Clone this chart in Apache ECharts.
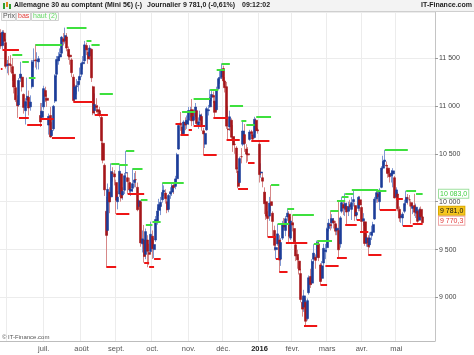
<!DOCTYPE html>
<html><head><meta charset="utf-8">
<script src="https://cdn.jsdelivr.net/npm/echarts/dist/echarts.min.js"></script>
<style>html,body{margin:0;padding:0;background:#fff}#c{width:474px;height:355px}</style>
</head><body><div id="c"></div><script>
// trading days per month
const monthDays = [
 ['2015-05', [26,27,28,29]],
 ['2015-06', [1,2,3,4,5,8,9,10,11,12,15,16,17,18,19,22,23,24,25,26,29,30]],
 ['2015-07', [1,2,3,6,7,8,9,10,13,14,15,16,17,20,21,22,23,24,27,28,29,30,31]],
 ['2015-08', [3,4,5,6,7,10,11,12,13,14,17,18,19,20,21,24,25,26,27,28,31]],
 ['2015-09', [1,2,3,4,7,8,9,10,11,14,15,16,17,18,21,22,23,24,25,28,29,30]],
 ['2015-10', [1,2,5,6,7,8,9,12,13,14,15,16,19,20,21,22,23,26,27,28,29,30]],
 ['2015-11', [2,3,4,5,6,9,10,11,12,13,16,17,18,19,20,23,24,25,26,27,30]],
 ['2015-12', [1,2,3,4,7,8,9,10,11,14,15,16,17,18,21,22,23,24,28,29,30,31]],
 ['2016-01', [4,5,6,7,8,11,12,13,14,15,18,19,20,21,22,25,26,27,28,29]],
 ['2016-02', [1,2,3,4,5,8,9,10,11,12,15,16,17,18,19,22,23,24,25,26,29]],
 ['2016-03', [1,2,3,4,7,8,9,10,11,14,15,16,17,18,21,22,23,24,29,30,31]],
 ['2016-04', [1,4,5,6,7,8,11,12,13,14,15,18,19,20,21,22,25,26,27,28,29]],
 ['2016-05', [2,3,4,5,6,9,10,11,12,13,16,17,18,19,20,23,24]]
];
const padDays = ['2016-05-25','2016-05-26','2016-05-27','2016-05-30','2016-05-31','2016-06-01','2016-06-02'];

// [open, close, low, high]
const may15 = [[11760,11625,11595,11800],[11630,11770,11591,11790],[11760,11673,11630,11790],[11660,11413,11390,11700]];
const jun15 = [[11420,11436,11340,11480],[11440,11430,11320,11520],[11430,11420,11350,11530],[11410,11340,11260,11500],[11330,11197,11130,11350],[11190,11064,11040,11210],[11060,11001,10875,11110],[11010,11265,10990,11290],[11290,11332,11250,11460],[11300,11197,11150,11330],[11120,10984,10920,11130],[10950,11044,10806,11080],[11060,11100,11000,11296],[11090,10978,10900,11160],[10990,11040,10950,11110],[11200,11460,11180,11480],[11470,11471,11400,11600],[11480,11471,11400,11643],[11470,11473,11380,11560],[11460,11492,11380,11520],[10900,10832,10780,11030],[10880,10945,10869,11030]];
const jul15 = [[10990,11180,10960,11210],[11160,11099,11040,11200],[11080,11058,10990,11120],[10800,10890,10700,10920],[10900,10676,10667,10990],[10690,10747,10680,10830],[10760,10996,10740,11010],[11050,11316,11030,11330],[11330,11484,11300,11520],[11470,11516,11430,11560],[11510,11540,11470,11600],[11550,11717,11540,11730],[11700,11673,11630,11760],[11680,11734,11650,11817],[11720,11604,11570,11760],[11590,11520,11480,11620],[11530,11512,11430,11590],[11480,11347,11300,11500],[11300,11056,11042,11330],[11070,11198,11050,11230],[11200,11211,11120,11280],[11220,11257,11150,11300],[11270,11308,11230,11400]];
const aug15 = [[11330,11444,11300,11460],[11440,11456,11380,11520],[11470,11637,11460,11678],[11630,11585,11530,11660],[11560,11490,11440,11600],[11520,11604,11480,11633],[11590,11293,11250,11600],[11200,10925,10903,11210],[10950,11014,10910,11130],[11000,10985,10930,11080],[10960,10940,10910,11010],[10950,10915,10880,10990],[10880,10636,10600,10900],[10610,10433,10400,10640],[10380,10124,10060,10400],[9900,9648,9323,10050],[9700,10128,9650,10190],[10100,9997,9880,10150],[10050,10315,10000,10400],[10300,10298,10210,10360],[10290,10259,10170,10330]];
const sep15 = [[10200,10016,9872,10230],[10000,10048,9920,10110],[10080,10318,10050,10390],[10290,10038,10000,10300],[10070,10108,10020,10150],[10120,10271,10080,10300],[10300,10303,10250,10531],[10250,10210,10080,10300],[10200,10123,10090,10250],[10110,10131,10060,10200],[10140,10188,10100,10348],[10200,10227,10150,10300],[10230,10229,10150,10320],[10150,9916,9900,10200],[9950,10010,9920,10025],[10000,9570,9530,10010],[9560,9612,9470,9700],[9600,9428,9364,9757],[9450,9688,9400,9720],[9600,9483,9316,9650],[9470,9450,9340,9560],[9480,9660,9460,9792]];
const oct15 = [[9640,9509,9403,9700],[9500,9553,9410,9620],[9600,9814,9580,9850],[9800,9902,9760,9940],[9910,9970,9850,10030],[9950,9993,9860,10050],[10020,10096,9990,10195],[10100,10119,10060,10170],[10090,10032,9980,10130],[10000,9915,9880,10050],[9920,10065,9890,10080],[10080,10104,10030,10150],[10100,10165,10060,10190],[10170,10147,10080,10190],[10160,10238,10130,10270],[10240,10491,10180,10510],[10550,10795,10540,10820],[10820,10801,10740,10936],[10780,10700,10695,10800],[10710,10832,10690,10850],[10830,10800,10747,10880],[10810,10850,10760,10900]];
const nov15 = [[10850,10951,10800,10990],[10940,10951,10880,10990],[10960,10845,10789,11072],[10850,10887,10800,10950],[10890,10988,10860,11030],[10950,10815,10790,10990],[10800,10833,10760,10880],[10850,10907,10820,10950],[10890,10782,10740,10920],[10740,10708,10487,10770],[10600,10713,10560,10740],[10750,10971,10740,10990],[10950,10959,10900,11010],[10990,11085,10980,11172],[11090,11119,11050,11160],[11110,11092,11030,11150],[11050,10933,10875,11100],[10960,11170,10950,11200],[11180,11284,11170,11300],[11290,11293,11230,11377],[11300,11382,11280,11442]];
const dec15 = [[11390,11261,11220,11420],[11260,11190,11140,11300],[11200,10789,10760,11250],[10760,10752,10643,11000],[10780,10886,10740,10950],[10850,10673,10650,10870],[10680,10592,10520,10800],[10600,10598,10500,10680],[10560,10340,10300,10580],[10320,10160,10140,10360],[10200,10450,10180,10470],[10470,10469,10400,10560],[10600,10738,10580,10841],[10700,10608,10520,10810],[10550,10497,10406,10600],[10500,10488,10420,10570],[10650,10727,10636,10750],[10730,10710,10690,10750],[10700,10653,10640,10730],[10670,10860,10660,10886],[10850,10743,10720,10870],[10750,10740,10710,10770]];
const jan16 = [[10600,10283,10200,10620],[10300,10310,10250,10400],[10250,10214,10150,10300],[10100,9979,9870,10150],[10000,9849,9810,10100],[9850,9825,9629,9900],[9850,9985,9800,10050],[10000,9960,9900,10174],[9880,9794,9640,9900],[9700,9545,9490,9750],[9500,9521,9400,9620],[9560,9664,9540,9768],[9600,9391,9264,9650],[9400,9574,9330,9620],[9620,9764,9600,9800],[9770,9736,9700,9830],[9700,9822,9640,9850],[9840,9880,9800,9931],[9870,9639,9573,9900],[9620,9798,9600,9840]];
const feb16 = [[9780,9757,9690,9861],[9720,9581,9560,9780],[9550,9434,9380,9600],[9450,9393,9300,9500],[9380,9286,9240,9420],[9250,8979,8950,9300],[8950,8879,8800,9000],[8900,9017,8850,9080],[8950,8752,8705,8990],[8780,8967,8760,8990],[9050,9206,9030,9230],[9220,9135,9100,9300],[9150,9377,9130,9400],[9400,9463,9350,9556],[9420,9388,9300,9450],[9420,9573,9410,9594],[9560,9416,9380,9580],[9340,9167,9132,9360],[9200,9331,9180,9380],[9360,9513,9333,9560],[9480,9495,9400,9560]];
const mar16 = [[9520,9717,9470,9730],[9720,9776,9690,9820],[9760,9751,9700,9906],[9780,9824,9720,9870],[9800,9778,9720,9830],[9770,9692,9650,9800],[9700,9723,9650,9760],[9700,9498,9410,10007],[9560,9831,9520,9850],[9900,9990,9880,10052],[9970,9933,9860,10000],[9920,9983,9850,10088],[9950,9892,9762,9990],[9900,9950,9850,10000],[9970,9948,9900,10020],[9920,9990,9809,10050],[10000,10022,9950,10125],[9960,9851,9800,9990],[9860,9887,9809,9950],[9930,10046,9900,10060],[10020,9966,9900,10060]];
const apr16 = [[9940,9794,9688,9960],[9800,9822,9750,9880],[9790,9564,9540,9800],[9570,9624,9530,9660],[9620,9530,9445,9650],[9550,9622,9520,9680],[9650,9683,9600,9750],[9680,9761,9640,9790],[9820,10027,9810,10050],[10030,10094,9990,10115],[10080,10051,9990,10125],[10000,10120,9914,10140],[10150,10350,10140,10370],[10350,10421,10330,10480],[10420,10435,10380,10539],[10380,10373,10300,10420],[10350,10294,10250,10380],[10290,10260,10200,10330],[10270,10299,10200,10330],[10290,10322,10150,10350],[10250,10039,10035,10270]];
const may16 = [[10050,10123,10035,10150],[10080,9926,9900,10100],[9920,9829,9790,9950],[9840,9852,9780,9880],[9830,9870,9747,9890],[9900,9980,9880,10020],[9990,10045,9960,10115],[10040,10036,9970,10080],[10020,10020,9950,10070],[9990,9952,9770,10010],[9930,9952,9870,9990],[9960,9890,9850,10083],[9880,9943,9830,9980],[9900,9795,9780,9920],[9810,9916,9800,9940],[9920,9842,9800,9950],[9841,9781,9775,9850]];

// "haut (2)" and "bas" levels: [from, to, value]
const hautSegs = [
 ['2015-06-04','2015-06-12',11530],['2015-06-12','2015-06-18',11460],['2015-06-18','2015-06-24',11296],['2015-06-24','2015-07-16',11643],
 ['2015-07-21','2015-08-06',11817],['2015-08-06','2015-08-11',11678],['2015-08-11','2015-08-18',11633],['2015-08-18','2015-08-28',11130],
 ['2015-08-27','2015-09-03',10400],['2015-09-03','2015-09-10',10390],['2015-09-09','2015-09-16',10531],['2015-09-15','2015-09-23',10348],
 ['2015-09-22','2015-09-28',10025],['2015-09-25','2015-10-01',9757],['2015-10-01','2015-10-08',9792],['2015-10-09','2015-10-28',10195],
 ['2015-10-27','2015-11-06',10936],['2015-11-05','2015-11-19',11072],['2015-11-19','2015-11-26',11172],['2015-11-25','2015-12-02',11377],
 ['2015-11-30','2015-12-07',11442],['2015-12-07','2015-12-17',11000],['2015-12-16','2015-12-21',10841],['2015-12-21','2015-12-29',10800],
 ['2015-12-30','2016-01-13',10886],['2016-01-13','2016-01-20',10174],['2016-01-19','2016-01-28',9768],['2016-01-27','2016-02-02',9931],
 ['2016-02-01','2016-02-18',9861],['2016-02-18','2016-02-23',9556],['2016-02-22','2016-03-04',9594],['2016-03-03','2016-03-10',9906],
 ['2016-03-09','2016-03-16',10007],['2016-03-14','2016-03-18',10052],['2016-03-16','2016-03-23',10088],['2016-03-22','2016-04-15',10125],
 ['2016-04-14','2016-04-22',10115],['2016-04-21','2016-05-11',10539],['2016-05-10','2016-05-18',10115],['2016-05-18','2016-05-24',10083]
];
const basSegs = [
 ['2015-05-26','2015-05-27',11390],['2015-05-27','2015-06-10',11591],['2015-06-10','2015-06-18',10875],['2015-06-17','2015-06-30',10806],
 ['2015-06-29','2015-07-09',10869],['2015-07-08','2015-07-28',10667],['2015-07-27','2015-08-12',11042],['2015-08-13','2015-08-25',10903],
 ['2015-08-24','2015-09-01',9323],['2015-09-01','2015-09-11',9872],['2015-09-10','2015-09-24',10080],['2015-09-24','2015-09-29',9364],
 ['2015-09-29','2015-10-02',9316],['2015-10-02','2015-10-08',9403],['2015-10-21','2015-10-26',10817],['2015-10-26','2015-11-02',10695],
 ['2015-11-02','2015-11-04',10747],['2015-11-05','2015-11-16',10789],['2015-11-13','2015-11-25',10487],['2015-11-23','2015-12-04',10875],
 ['2015-12-03','2015-12-15',10643],['2015-12-14','2015-12-22',10140],['2015-12-22','2015-12-29',10406],['2015-12-24','2016-01-12',10636],
 ['2016-01-11','2016-01-18',9629],['2016-01-18','2016-01-20',9400],['2016-01-20','2016-01-27',9264],['2016-01-26','2016-02-12',9573],
 ['2016-02-10','2016-02-22',8705],['2016-02-24','2016-03-01',9132],['2016-02-29','2016-03-10',9333],['2016-03-09','2016-03-17',9410],
 ['2016-03-16','2016-03-29',9762],['2016-03-29','2016-03-31',9809],['2016-03-31','2016-04-07',9688],['2016-04-07','2016-04-19',9445],
 ['2016-04-18','2016-05-02',9914],['2016-05-02','2016-05-06',10035],['2016-05-06','2016-05-16',9747],['2016-05-16','2016-05-24',9770]
];
const lastHaut = 10083.0, lastPrice = 9781.0, lastBas = 9770.3;
const monthNames = ['janv.','févr.','mars','avr.','mai','juin','juil.','août','sept.','oct.','nov.','déc.'];

const bars = [].concat(may15, jun15, jul15, aug15, sep15, oct15, nov15, dec15, jan16, feb16, mar16, apr16, may16);
const dates = [];
monthDays.forEach(([ym, days]) => days.forEach(d => dates.push(ym + '-' + String(d).padStart(2, '0'))));
const categories = dates.concat(padDays);
const nBars = dates.length;
const monthStart = new Set();
for (let i = 1; i < nBars; i++) if (dates[i].slice(0, 7) !== dates[i - 1].slice(0, 7)) monthStart.add(i);

const bodies = bars.map(([o, c]) => [o, c, Math.min(o, c), Math.max(o, c)]);
const sep = v => String(v).replace(/\B(?=(\d{3})+(?!\d))/g, ' ');
const tag = v => { const p = v.toFixed(1).split('.'); return sep(p[0]) + ',' + p[1]; };

const F = '"Liberation Sans", Arial, sans-serif';

const chart = echarts.init(document.getElementById('c'), null, {renderer: 'canvas'});
chart.setOption({
  animation: false,
  backgroundColor: '#fff',
  grid: {left: 0, right: 39, top: 12, bottom: 14},
  xAxis: {
    type: 'category', data: categories, boundaryGap: true,
    axisLine: {lineStyle: {color: '#bdbdbd'}},
    axisTick: {show: false},
    axisLabel: {
      interval: (i) => monthStart.has(i), margin: 4, fontSize: 7.5, color: '#555', fontFamily: F,
      formatter: (v) => {
        const y = v.slice(0, 4), m = +v.slice(5, 7);
        if (v.slice(0, 7) === '2015-06') return '';
        if (m === 1) return '{b|' + y + '}';
        return monthNames[m - 1];
      },
      rich: {b: {fontWeight: 'bold', color: '#222', fontSize: 7.5, fontFamily: F}}
    },
    splitLine: {show: true, interval: (i) => monthStart.has(i), lineStyle: {color: '#ececec', width: 1}}
  },
  yAxis: {
    type: 'value', position: 'right', min: 8546, max: 11980, splitNumber: 5,
    axisLine: {show: true, lineStyle: {color: '#c4c4c4'}},
    axisTick: {show: true, length: 3, lineStyle: {color: '#999'}},
    axisLabel: {margin: 4, fontSize: 7, color: '#444', fontFamily: F, showMinLabel: false, showMaxLabel: false, formatter: v => sep(v)},
    splitLine: {lineStyle: {color: '#ececec'}}
  },
  series: [
    {
      name: 'wick', type: 'candlestick', data: bars, barWidth: 1, silent: true,
      itemStyle: {color: '#7f97d2', color0: '#d68888', borderColor: '#7f97d2', borderColor0: '#d68888', borderWidth: 1},
      markLine: {
        silent: true, symbol: ['none', 'none'], animation: false,
        label: {show: false},
        lineStyle: {color: '#ee1515', width: 2, type: 'solid'},
        data: basSegs.map(([a, b, v]) => [{coord: [a, v]}, {coord: [b, v]}])
      }
    },
    {
      name: 'prix', type: 'candlestick', data: bodies, barWidth: 2.6, silent: true,
      itemStyle: {color: '#1d3d98', color0: '#a5161a', borderColor: '#1d3d98', borderColor0: '#a5161a', borderWidth: 0.6},
      markLine: {
        silent: true, symbol: ['none', 'none'], animation: false,
        label: {show: false},
        lineStyle: {color: '#3ee03e', width: 2, type: 'solid'},
        data: hautSegs.map(([a, b, v]) => [{coord: [a, v]}, {coord: [b, v]}])
      }
    }
  ],
  graphic: [
    {type: 'rect', left: 0, top: 0, shape: {width: 474, height: 11}, style: {fill: '#f3f3f3'}, z: 10},
    {type: 'line', shape: {x1: 0, y1: 11.5, x2: 474, y2: 11.5}, style: {stroke: '#cfcfcf', lineWidth: 1}, z: 10},
    {type: 'rect', shape: {x: 3, y: 3, width: 2, height: 6}, style: {fill: '#2f9e2f'}, z: 11},
    {type: 'rect', shape: {x: 6, y: 2, width: 2, height: 5}, style: {fill: '#e08a20'}, z: 11},
    {type: 'rect', shape: {x: 9, y: 4, width: 2, height: 5}, style: {fill: '#2f9e2f'}, z: 11},
    {type: 'text', x: 14, y: 1.5, style: {text: 'Allemagne 30 au comptant (Mini 5€) (-)', font: 'bold 7px ' + F, fill: '#222'}, z: 11},
    {type: 'text', x: 147, y: 1.5, style: {text: 'Journalier', font: 'bold 7px ' + F, fill: '#222'}, z: 11},
    {type: 'text', x: 183, y: 1.5, style: {text: '9 781,0 (-0,61%)', font: 'bold 7px ' + F, fill: '#222'}, z: 11},
    {type: 'text', x: 242, y: 1.5, style: {text: '09:12:02', font: 'bold 7px ' + F, fill: '#222'}, z: 11},
    {type: 'text', right: 2, top: 1.5, style: {text: 'IT-Finance.com', font: 'bold 7px ' + F, fill: '#222'}, z: 11},
    {type: 'rect', shape: {x: 1.5, y: 12.5, width: 14, height: 8}, style: {fill: '#f7f7f7', stroke: '#d0d0d0', lineWidth: 1}, z: 11},
    {type: 'text', x: 3, y: 13, style: {text: 'Prix', font: '7px ' + F, fill: '#555'}, z: 12},
    {type: 'rect', shape: {x: 16.5, y: 12.5, width: 14, height: 8}, style: {fill: '#fbfbfb', stroke: '#d0d0d0', lineWidth: 1}, z: 11},
    {type: 'text', x: 18, y: 13, style: {text: 'bas', font: '7px ' + F, fill: '#e53935'}, z: 12},
    {type: 'rect', shape: {x: 31.5, y: 12.5, width: 27, height: 8}, style: {fill: '#fbfbfb', stroke: '#d0d0d0', lineWidth: 1}, z: 11},
    {type: 'text', x: 33, y: 13, style: {text: 'haut (2)', font: '7px ' + F, fill: '#62d862'}, z: 12},
    {type: 'text', x: 2, y: 334, style: {text: '© IT-Finance.com', font: '6px ' + F, fill: '#555'}, z: 11}
  ]
});

// value tags on the right axis, placed through the axis scale
const tagDefs = [
  {v: lastHaut, dy: 0, fill: '#3fcf3f', bg: '#ffffff', border: '#9ee09e'},
  {v: lastPrice, dy: -12, fill: '#111111', bg: '#f6c61e', border: '#d9a800'},
  {v: lastBas, dy: -3, fill: '#e03a3a', bg: '#ffffff', border: '#f0a8a8'}
];
const extra = [];
tagDefs.forEach((t, k) => {
  const y = chart.convertToPixel({yAxisIndex: 0}, t.v) + t.dy;
  extra.push({
    type: 'text', id: 'tag' + k, x: 439, y: y, z: 20,
    style: {text: tag(t.v), font: '7px ' + F, fill: t.fill, backgroundColor: t.bg, borderColor: t.border, borderWidth: 1, padding: [1, 1, 0, 1], verticalAlign: 'middle', align: 'left'}
  });
});
chart.setOption({graphic: extra});
</script></body></html>
